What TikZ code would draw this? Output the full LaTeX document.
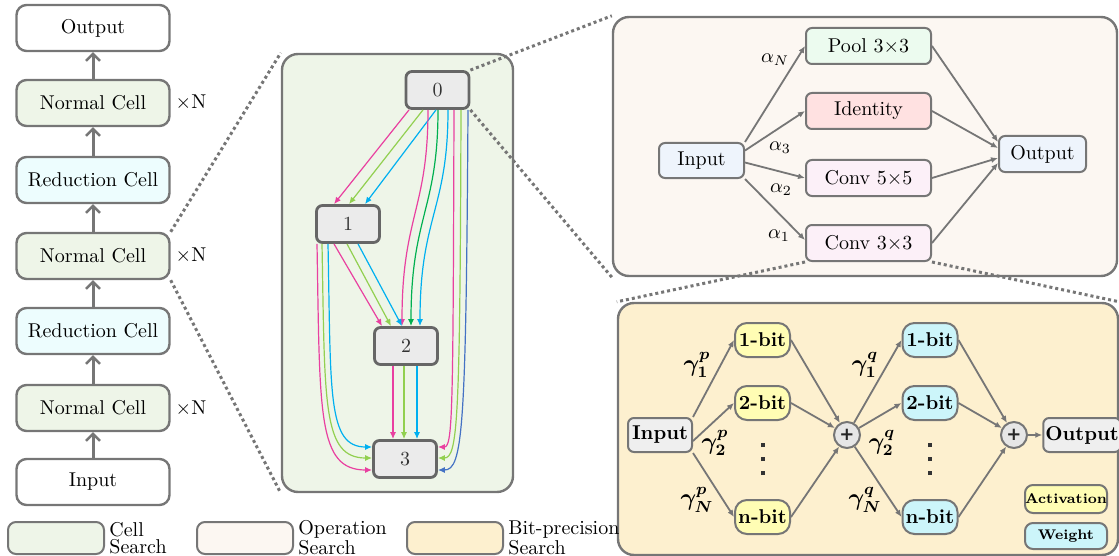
\documentclass[tikz,border=0pt]{standalone}
\usepackage{amsmath, amssymb, bm}
\usepackage{fontspec}
\newfontfamily\plusfont{DejaVu Sans}
\usetikzlibrary{arrows.meta, positioning}
\definecolor{linegray}{HTML}{767676}
\definecolor{cngray}{HTML}{666666}
\definecolor{nodegray}{HTML}{EBEBEB}
\definecolor{ingray}{HTML}{EFEFEF}
\definecolor{sumgray}{HTML}{E6E6E6}
\definecolor{cellgreen}{HTML}{EEF5E8}
\definecolor{redcyan}{HTML}{EDFDFE}
\definecolor{opbg}{HTML}{FCF7F2}
\definecolor{bitbg}{HTML}{FDF0CF}
\definecolor{inblue}{HTML}{EEF4FC}
\definecolor{poolg}{HTML}{ECFBEF}
\definecolor{idpink}{HTML}{FFE1E1}
\definecolor{convp}{HTML}{FCF0F8}
\definecolor{actyel}{HTML}{FFFDB4}
\definecolor{wcyan}{HTML}{CCF5FA}
\definecolor{cmag}{HTML}{E940A0}
\definecolor{cgrn}{HTML}{92D050}
\definecolor{ccyn}{HTML}{00B0F0}
\definecolor{cdgr}{HTML}{00B050}
\definecolor{cblu}{HTML}{4472C4}

\begin{document}
\begin{tikzpicture}[x=0.5pt, y=-0.5pt, >={Latex[length=3.5pt, width=3pt]},
  layerbox/.style={draw=linegray, line width=1.2pt, rounded corners=5pt, minimum width=76.5pt, minimum height=23pt, inner sep=0pt},
  uparrow/.style={-{Straight Barb[length=3.5pt, width=7pt, line width=1.2pt]}, draw=linegray, line width=1.5pt},
  panelbox/.style={draw=linegray, line width=1.2pt, rounded corners=8pt, inner sep=0pt},
  cellnode/.style={draw=cngray, fill=nodegray, line width=1.4pt, rounded corners=3pt, minimum width=31.5pt, minimum height=18.5pt, inner sep=0pt, text=black!80},
  celledge/.style={->, line width=0.6pt},
  opbox/.style={draw=linegray, line width=1pt, rounded corners=3pt, minimum width=62.5pt, minimum height=18pt, inner sep=0pt},
  opedge/.style={->, draw=linegray, line width=0.9pt},
  bitbox/.style={draw=linegray, line width=1pt, rounded corners=6pt, minimum width=27.5pt, minimum height=17pt, inner sep=1pt, font=\bfseries},
  sumnode/.style={circle, draw=linegray, fill=sumgray, line width=1pt, minimum size=13pt, inner sep=0pt, text=black!85, font=\plusfont\bfseries\fontsize{9}{9}\selectfont},
  dotsnode/.style={align=center, inner sep=0pt, font=\fontsize{10}{7}\selectfont, text=black!80},
  zoomline/.style={draw=linegray, line width=1.5pt, dash pattern=on 1.5pt off 1.5pt},
  legbox/.style={draw=linegray, line width=1pt, rounded corners=4pt, minimum width=48pt, minimum height=16pt},
  legtext/.style={align=left, inner sep=0pt, font=\fontsize{10}{8.5}\selectfont}]
  \useasboundingbox (0,0) rectangle (1119,556);

  % network stack
  \node[layerbox] (inp) at (93,482) {Input};
  \node[layerbox, fill=cellgreen] (nc1) at (93,408) {Normal Cell};
  \node[layerbox, fill=redcyan] (rc1) at (93,331) {Reduction Cell};
  \node[layerbox, fill=cellgreen] (nc2) at (93,256) {Normal Cell};
  \node[layerbox, fill=redcyan] (rc2) at (93,180) {Reduction Cell};
  \node[layerbox, fill=cellgreen] (nc3) at (93,103) {Normal Cell};
  \node[layerbox] (out) at (93,28) {Output};
  \draw[uparrow] (inp.north)--(nc1.south); \draw[uparrow] (nc1.north)--(rc1.south); \draw[uparrow] (rc1.north)--(nc2.south);
  \draw[uparrow] (nc2.north)--(rc2.south); \draw[uparrow] (rc2.north)--(nc3.south); \draw[uparrow] (nc3.north)--(out.south);
  \node (xn1) at (191,408) {$\times$N}; \node (xn2) at (191,256) {$\times$N}; \node (xn3) at (191,103) {$\times$N};

  % cell search
  \node[panelbox, fill=cellgreen, minimum width=115.5pt, minimum height=219pt] (cellpanel) at (397.5,273) {};
  \node[cellnode] (n0) at (437.5,90) {0};
  \node[cellnode] (n1) at (348,224) {1};
  \node[cellnode] (n2) at (406,346) {2};
  \node[cellnode] (n3) at (405,459) {3};
  % 0 -> 1
  \draw[celledge, cmag] ([xshift=-14.25pt]n0.south)--([xshift=-7pt]n1.north);
  \draw[celledge, cgrn] ([xshift=-7.25pt]n0.south)--([xshift=0.5pt]n1.north);
  \draw[celledge, ccyn] ([xshift=-0.75pt]n0.south)--([xshift=8.5pt]n1.north);
  % 0 -> 2
  \draw[celledge, cmag] ([xshift=-4.75pt]n0.south) .. controls +(0,100) and +(0,-110) .. ([xshift=-2pt]n2.north);
  \draw[celledge, cdgr] ([xshift=0.25pt]n0.south) .. controls +(0,100) and +(0,-110) .. ([xshift=2.5pt]n2.north);
  \draw[celledge, ccyn] ([xshift=5.25pt]n0.south) .. controls +(0,100) and +(0,-110) .. ([xshift=7pt]n2.north);
  % 1 -> 2
  \draw[celledge, cmag] ([xshift=-7pt]n1.south)--([xshift=-12pt]n2.north);
  \draw[celledge, cgrn] ([xshift=-0.5pt]n1.south)--([xshift=-7.5pt]n2.north);
  \draw[celledge, ccyn] ([xshift=5pt]n1.south)--([xshift=-2pt]n2.north);
  % 1 -> 3
  \draw[celledge, cmag] ([xshift=-15.5pt]n1.south) .. controls +(3,170) and +(-55,0) .. ([yshift=-5.5pt]n3.west);
  \draw[celledge, cgrn] ([xshift=-13pt]n1.south) .. controls +(3,160) and +(-50,0) .. ([yshift=0.5pt]n3.west);
  \draw[celledge, ccyn] ([xshift=-10pt]n1.south) .. controls +(3,150) and +(-45,0) .. ([yshift=6pt]n3.west);
  % 2 -> 3
  \draw[celledge, cmag] ([xshift=-6.5pt]n2.south)--([xshift=-6pt]n3.north);
  \draw[celledge, cgrn] ([xshift=-1pt]n2.south)--([xshift=-0.5pt]n3.north);
  \draw[celledge, ccyn] ([xshift=5.5pt]n2.south)--([xshift=6pt]n3.north);
  % 0 -> 3
  \draw[celledge, cmag] ([xshift=8.25pt]n0.south) .. controls +(-1,300) and +(15,0) .. ([yshift=6pt]n3.east);
  \draw[celledge, cgrn] ([xshift=11.75pt]n0.south) .. controls +(-1,310) and +(20,0) .. ([yshift=0.5pt]n3.east);
  \draw[celledge, cblu] ([xshift=15.25pt]n0.south) .. controls +(-2,320) and +(25,0) .. ([yshift=-5.5pt]n3.east);

  % operation search
  \node[panelbox, fill=opbg, minimum width=252pt, minimum height=129.5pt] (oppanel) at (865,146.5) {};
  \node[opbox, fill=inblue, minimum width=42.5pt, minimum height=17.5pt] (opin) at (701.5,160.5) {Input};
  \node[opbox, fill=poolg] (pool) at (868.5,46) {Pool 3$\times$3};
  \node[opbox, fill=idpink] (ident) at (868.5,111) {Identity};
  \node[opbox, fill=convp] (conv5) at (868.5,178) {Conv 5$\times$5};
  \node[opbox, fill=convp] (conv3) at (868.5,243) {Conv 3$\times$3};
  \node[opbox, fill=inblue, minimum width=43.5pt] (opout) at (1042.5,154) {Output};
  \draw[opedge] (opin.north east)--(pool.west); \draw[opedge] ([yshift=5pt]opin.east)--(ident.west);
  \draw[opedge] ([yshift=-1pt]opin.east)--(conv5.west); \draw[opedge] (opin.south east)--([yshift=1.5pt]conv3.west);
  \draw[opedge] (pool.east)--([yshift=6pt]opout.west); \draw[opedge] (ident.east)--([yshift=3pt]opout.west);
  \draw[opedge] (conv5.east)--([yshift=-2pt]opout.west); \draw[opedge] (conv3.east)--([yshift=-4.5pt]opout.west);
  \node (aN) at (775,60) {$\alpha_N$}; \node (a3) at (780,148) {$\alpha_3$};
  \node (a2) at (781,190) {$\alpha_2$}; \node (a1) at (779,236) {$\alpha_1$};

  % bit-precision search
  \node[panelbox, fill=bitbg, minimum width=250pt, minimum height=126pt] (bitpanel) at (868,429) {};
  \node[bitbox, fill=ingray, rounded corners=3pt, minimum width=32pt] (bin) at (660,435) {Input};
  \node[bitbox, fill=actyel] (ab1) at (762.5,340) {1-bit};
  \node[bitbox, fill=actyel] (ab2) at (762.5,403) {2-bit};
  \node[dotsnode] (abd) at (762.5,459) {\rule{2pt}{2pt}\\\rule{2pt}{2pt}\\\rule{2pt}{2pt}};
  \node[bitbox, fill=actyel] (abn) at (762.5,517) {n-bit};
  \node[sumnode] (s1) at (847,435) {+};
  \node[bitbox, fill=wcyan] (wb1) at (930,340) {1-bit};
  \node[bitbox, fill=wcyan] (wb2) at (930,403) {2-bit};
  \node[dotsnode] (wbd) at (930,459) {\rule{2pt}{2pt}\\\rule{2pt}{2pt}\\\rule{2pt}{2pt}};
  \node[bitbox, fill=wcyan] (wbn) at (930,517) {n-bit};
  \node[sumnode] (s2) at (1014,435) {+};
  \node[bitbox, fill=ingray, rounded corners=3pt, minimum width=35.5pt] (bout) at (1082,435) {Output};
  \draw[opedge] (bin.north east)--(ab1.west); \draw[opedge] ([yshift=-3pt]bin.east)--(ab2.west); \draw[opedge] (bin.south east)--(abn.west);
  \draw[opedge] (ab1.east)--(s1); \draw[opedge] (ab2.east)--(s1); \draw[opedge] (abn.east)--(s1);
  \draw[opedge] (s1)--(wb1.west); \draw[opedge] (s1)--(wb2.west); \draw[opedge] (s1)--(wbn.west);
  \draw[opedge] (wb1.east)--(s2); \draw[opedge] (wb2.east)--(s2); \draw[opedge] (wbn.east)--(s2);
  \draw[opedge] (s2)--(bout.west);
  \node[font=\large] (gp1) at (697,365) {$\bm{\gamma^{p}_{1}}$}; \node[font=\large] (gp2) at (715,443) {$\bm{\gamma^{p}_{2}}$};
  \node[font=\large] (gpN) at (697,500) {$\bm{\gamma^{p}_{N}}$};
  \node[font=\large] (gq1) at (865,365) {$\bm{\gamma^{q}_{1}}$}; \node[font=\large] (gq2) at (882,443) {$\bm{\gamma^{q}_{2}}$};
  \node[font=\large] (gqN) at (865,500) {$\bm{\gamma^{q}_{N}}$};
  \node[legbox, fill=actyel, minimum width=41pt, minimum height=14pt, inner sep=0pt, font=\scriptsize\bfseries] (lact) at (1066,499) {Activation};
  \node[legbox, fill=wcyan, minimum width=41pt, minimum height=13pt, inner sep=0pt, font=\scriptsize\bfseries] (lwt) at (1066,536) {Weight};

  % zoom lines
  \draw[zoomline] (nc2.north east)--(cellpanel.north west); \draw[zoomline] (nc2.south east)--(cellpanel.south west);
  \draw[zoomline] (n0.north east)--(oppanel.north west); \draw[zoomline] (n0.south east)--(oppanel.south west);
  \draw[zoomline] (conv3.south west)--(bitpanel.north west); \draw[zoomline] (conv3.south east)--(bitpanel.north east);

  % legend
  \node[legbox, fill=cellgreen] (lg1) at (56,538) {}; \node[legtext, right=2pt of lg1] (lt1) {Cell\\Search};
  \node[legbox, fill=opbg] (lg2) at (245,538) {}; \node[legtext, right=2pt of lg2] (lt2) {Operation\\Search};
  \node[legbox, fill=bitbg] (lg3) at (455,538) {}; \node[legtext, right=2pt of lg3] (lt3) {Bit-precision\\Search};
\end{tikzpicture}
\end{document}
